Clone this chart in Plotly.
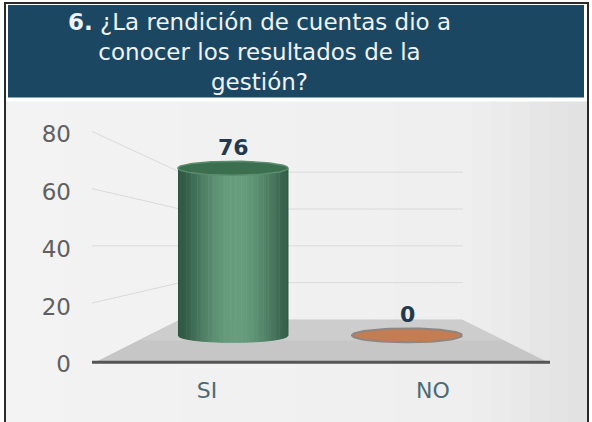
import numpy as np
import plotly.graph_objects as go

# ---------------- data ----------------
categories = ["SI", "NO"]
values = [76, 0]
y_ticks = [0, 20, 40, 60, 80]
title_lines = ["<b>6.</b> ¿La rendición de cuentas dio a",
               "conocer los resultados de la",
               "gestión?"]

# ---------------- styling ----------------
W, H = 592, 422
FONT = "DejaVu Sans"
body_dark = ["#2b5440", "#8c5434"]
body_light = ["#679d7d", "#d99a70"]
top_fill = ["#3c6f50", "#c47c52"]
top_line = ["#5a8d6d", "#8e8680"]


def fx(p):
    return p / W


def fy(p):
    return 1 - p / H


def lin_range(p_a, v_a, p_b, v_b, lo, hi):
    k = (v_b - v_a) / (p_b - p_a)
    return [v_a + (lo - p_a) * k, v_a + (hi - p_a) * k]


PX0, PX1 = 72, 580
PY_TOP, PY_BOT = 104, 377

# front axis (labels) and depth axis (cylinders)
x_rng = lin_range(207, 0, 433, 1, PX0, PX1)
x2_rng = lin_range(233, 0, 407, 1, PX0, PX1)
y_rng = lin_range(366, 0, 135, 80, PY_BOT, PY_TOP)
PPU2 = 2.2105
y2_rng = lin_range(337, 0, 337 - 80 * PPU2, 80, PY_BOT, PY_TOP)
rx_u = 55 / 174.0
ry_u = 7 / PPU2


def hex2rgb(h):
    h = h.lstrip("#")
    return [int(h[i:i + 2], 16) for i in (0, 2, 4)]


def mix(c1, c2, f):
    a, b = hex2rgb(c1), hex2rgb(c2)
    return "rgb(%d,%d,%d)" % tuple(round(a[j] + (b[j] - a[j]) * f) for j in range(3))


fig = go.Figure()

# invisible trace so the front axes are drawn
fig.add_trace(go.Scatter(x=[0, 1], y=[0, 0], mode="markers", marker=dict(opacity=0),
                         xaxis="x", yaxis="y", hoverinfo="skip", showlegend=False))

N = 40
for i, v in enumerate(values):
    if v > 0:
        edges = np.linspace(-1, 1, N + 1)
        for k in range(N):
            ts = np.linspace(edges[k], edges[k + 1], 4)
            xs = i + rx_u * ts
            dy = ry_u * np.sqrt(np.clip(1 - ts ** 2, 0, 1))
            xp = np.concatenate([xs, xs[::-1]])
            yp = np.concatenate([0 - dy, (v - dy)[::-1]])
            tm = 0.5 * (edges[k] + edges[k + 1])
            f = max(0.0, 1 - ((tm - 0.05) / 1.1) ** 2) ** 1.6
            col = mix(body_dark[i], body_light[i], f)
            fig.add_trace(go.Scatter(x=xp, y=yp, xaxis="x2", yaxis="y2", mode="lines",
                                     fill="toself", fillcolor=col,
                                     line=dict(width=1, color=col),
                                     hoverinfo="skip", showlegend=False))
    th = np.linspace(0, 2 * np.pi, 90)
    fig.add_trace(go.Scatter(x=i + rx_u * np.cos(th), y=v + ry_u * np.sin(th),
                             xaxis="x2", yaxis="y2", mode="lines", fill="toself",
                             fillcolor=top_fill[i],
                             line=dict(width=2 if v == 0 else 1.5, color=top_line[i]),
                             hoverinfo="skip", showlegend=False))

annotations = []
for i, v in enumerate(values):
    annotations.append(dict(x=i, y=v, xref="x2", yref="y2", text="<b>%d</b>" % v,
                            showarrow=False, yshift=21,
                            font=dict(family=FONT, size=22, color="#233a4c")))

annotations.append(dict(x=fx(259), y=fy(52), xref="paper", yref="paper",
                        text="<br>".join(title_lines), showarrow=False,
                        xanchor="center", yanchor="middle", align="center",
                        font=dict(family=FONT, size=23, color="#eef3f5")))

shapes = []
# chart background gradient
n_bg = 30
xs_bg = np.linspace(5, 588, n_bg + 1)
for k in range(n_bg):
    t = k / (n_bg - 1)
    f = 0.12 * t + 0.28 * max(0, t - 0.8) / 0.2
    shapes.append(dict(type="rect", xref="paper", yref="paper", layer="below",
                       x0=fx(xs_bg[k]), x1=fx(xs_bg[k + 1] + 0.5), y0=fy(430), y1=fy(102),
                       fillcolor=mix("#f3f3f3", "#c8c8c8", f), line=dict(width=0)))
# title box
shapes.append(dict(type="rect", xref="paper", yref="paper", layer="below",
                   x0=fx(8), x1=fx(584), y0=fy(98), y1=fy(5),
                   fillcolor="#1c4762", line=dict(width=0)))


def back_y(t):
    return 321 - t * 1.85


def front_y(t):
    return 363 - t * 2.875


# faint gridlines on back and side walls
for t in y_ticks[1:]:
    shapes.append(dict(type="line", xref="paper", yref="paper", layer="below",
                       x0=fx(180), x1=fx(463), y0=fy(back_y(t)), y1=fy(back_y(t)),
                       line=dict(color="#dadada", width=1)))
    shapes.append(dict(type="line", xref="paper", yref="paper", layer="below",
                       x0=fx(92), x1=fx(180), y0=fy(front_y(t) - 1), y1=fy(back_y(t)),
                       line=dict(color="#dadada", width=1)))

# floor
shapes.append(dict(type="path", xref="paper", yref="paper", layer="below",
                   path="M %f,%f L %f,%f L %f,%f L %f,%f Z" % (
                       fx(95), fy(364), fx(548), fy(364), fx(462), fy(321), fx(180), fy(321)),
                   fillcolor="#c6c6c6", line=dict(width=0)))
shapes.append(dict(type="path", xref="paper", yref="paper", layer="below",
                   path="M %f,%f L %f,%f L %f,%f L %f,%f Z" % (
                       fx(140), fy(342), fx(505), fy(342), fx(462), fy(321), fx(180), fy(321)),
                   fillcolor="rgba(255,255,255,0.12)", line=dict(width=0)))
shapes.append(dict(type="line", xref="paper", yref="paper", layer="below",
                   x0=fx(92), x1=fx(550), y0=fy(364), y1=fy(364),
                   line=dict(color="#555555", width=3)))
# outer frame
shapes.append(dict(type="rect", xref="paper", yref="paper", layer="above",
                   x0=fx(5), x1=fx(588), y0=fy(440), y1=fy(3),
                   line=dict(color="#2a2a2a", width=2), fillcolor="rgba(0,0,0,0)"))

fig.update_layout(
    width=W, height=H,
    margin=dict(l=0, r=0, t=0, b=0),
    paper_bgcolor="white", plot_bgcolor="rgba(0,0,0,0)",
    showlegend=False,
    xaxis=dict(domain=[fx(PX0), fx(PX1)], range=x_rng, tickvals=[0, 1],
               ticktext=categories, showgrid=False, zeroline=False, showline=False,
               ticks="", fixedrange=True,
               tickfont=dict(family=FONT, size=22, color="#4d6b73")),
    yaxis=dict(domain=[fy(PY_BOT), fy(PY_TOP)], range=y_rng, tickvals=y_ticks,
               showgrid=False, zeroline=False, showline=False, ticks="",
               fixedrange=True,
               tickfont=dict(family=FONT, size=23, color="#606060")),
    xaxis2=dict(overlaying="x", anchor="y2", range=x2_rng, visible=False, fixedrange=True),
    yaxis2=dict(overlaying="y", anchor="x2", range=y2_rng, visible=False, fixedrange=True),
    shapes=shapes,
    annotations=annotations,
)

fig.write_html("out.html", config={"displayModeBar": False},
               post_script="document.body.style.margin='0';document.body.style.overflow='hidden';")
